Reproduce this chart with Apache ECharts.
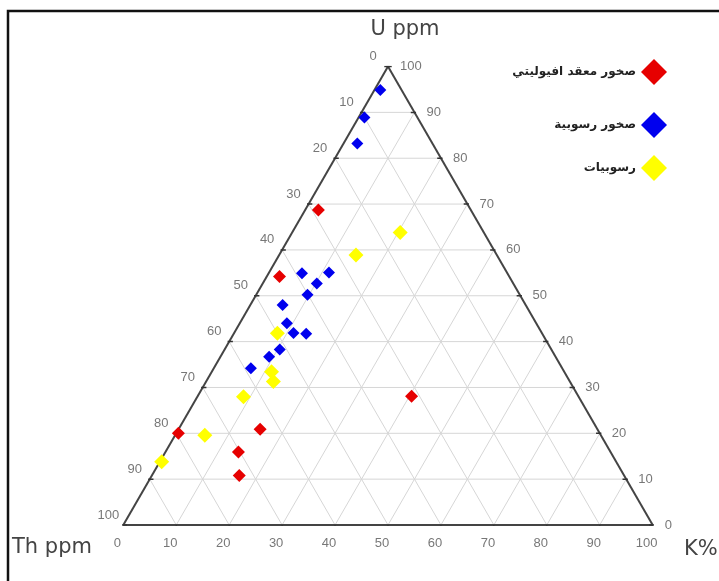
<!DOCTYPE html>
<html>
<head>
<meta charset="utf-8">
<script src="https://cdn.jsdelivr.net/npm/echarts@6/dist/echarts.min.js"></script>
<style>html,body{margin:0;padding:0;background:#fff}#c{width:719px;height:581px}</style>
</head>
<body>
<div id="c"></div>
<script>
// Ternary data: each point is [Th ppm, U ppm, K%]
const seriesNames = ['صخور معقد افيوليتي', 'صخور رسوبية', 'رسوبيات'];
const ophioliteTUK = [
  [28.8, 68.7, 2.5], [43.4, 54.2, 2.4], [31.5, 28.1, 40.4], [79.6, 20.0, 0.4],
  [63.7, 20.9, 15.4], [70.3, 15.9, 13.8], [72.7, 10.8, 16.5]
];
const sedRockTUK = [
  [4.0, 94.9, 1.1], [10.0, 88.9, 1.1], [14.2, 83.2, 2.6], [38.8, 54.9, 6.3],
  [33.6, 55.1, 11.3], [37.1, 52.7, 10.2], [40.1, 50.2, 9.7], [45.9, 48.0, 6.1],
  [47.1, 44.0, 8.9], [46.9, 41.9, 11.2], [44.6, 41.7, 13.7], [51.3, 38.3, 10.4],
  [54.1, 36.7, 9.2], [58.8, 34.2, 7.0]
];
const sedimentTUK = [
  [15.8, 63.8, 20.4], [26.6, 58.9, 14.5], [50.0, 41.8, 8.2], [55.3, 33.4, 11.3],
  [56.0, 31.3, 12.7], [63.3, 28.0, 8.7], [74.8, 19.6, 5.6], [85.85, 13.8, 0.35]
];
const tickValues = [0, 10, 20, 30, 40, 50, 60, 70, 80, 90, 100];
const axisTitles = { top: 'U ppm', left: 'Th ppm', right: 'K%' };

const SQ = Math.sqrt(3) / 2;
function toXY(p) {
  const s = p[0] + p[1] + p[2];
  const u = p[1] * 100 / s, k = p[2] * 100 / s;
  return [k + u / 2, u * SQ];
}

const series = [];
function seg(a, b, color, width) {
  series.push({
    type: 'line', silent: true, symbol: 'none', animation: false,
    lineStyle: { color: color, width: width },
    data: [toXY(a), toXY(b)], z: 1
  });
}
// grid lines
for (let v = 10; v <= 90; v += 10) {
  seg([100 - v, v, 0], [0, v, 100 - v], '#d6d6d6', 1);
  seg([100 - v, 0, v], [0, 100 - v, v], '#d6d6d6', 1);
  seg([v, 100 - v, 0], [v, 0, 100 - v], '#d6d6d6', 1);
}
// edges
seg([100, 0, 0], [0, 0, 100], '#444', 2);
seg([0, 0, 100], [0, 100, 0], '#444', 2);
seg([0, 100, 0], [100, 0, 0], '#444', 2);

// ticks (small marks)
const tickData = [];
tickValues.forEach(v => {
  const b = toXY([100 - v, 0, v]);
  tickData.push([b, [b[0], b[1] - 0.8]]);
  const r = toXY([0, v, 100 - v]);
  tickData.push([[r[0] - 0.7, r[1]], [r[0] + 0.3, r[1]]]);
  const l = toXY([100 - v, v, 0]);
  tickData.push([[l[0] - 0.3, l[1]], [l[0] + 0.7, l[1]]]);
});
tickData.forEach(t => series.push({
  type: 'line', silent: true, symbol: 'none', animation: false,
  lineStyle: { color: '#333', width: 1.5 }, data: t, z: 2
}));

const labelFont = { fontFamily: 'Liberation Sans', fontSize: 13, color: '#555' };
function labelSeries(points, labels, labelOpt) {
  series.push({
    type: 'scatter', silent: true, animation: false, symbolSize: 0.1,
    itemStyle: { color: 'rgba(0,0,0,0)' }, z: 3,
    data: points.map((p, i) => ({ value: toXY(p), name: String(labels[i]) })),
    label: Object.assign({ show: true, formatter: '{b}' }, labelFont, labelOpt)
  });
}
labelSeries(tickValues.map(v => [100 - v, 0, v]), tickValues,
  { position: 'inside', offset: [-6, 18] });
labelSeries(tickValues.map(v => [0, v, 100 - v]), tickValues,
  { position: 'right', distance: 12 });
labelSeries(tickValues.map(v => [v, 100 - v, 0]), tickValues,
  { position: 'inside', offset: [-15, -10] });

// data points
function dataSeries(name, pts, color, size, z) {
  series.push({
    name: name, type: 'scatter', symbol: 'diamond', symbolSize: size,
    itemStyle: { color: color, opacity: 1 }, z: z, animation: false,
    data: pts.map(toXY)
  });
}
dataSeries(seriesNames[2], sedimentTUK, '#ffff00', 15, 5);
dataSeries(seriesNames[1], sedRockTUK, '#0000ee', 12, 6);
dataSeries(seriesNames[0], ophioliteTUK, '#e60000', 13, 7);

const legendTops = [67, 120, 163];
const legends = seriesNames.map((n, i) => ({
  data: [n], right: 47, top: legendTops[i] - 13, align: 'right',
  icon: 'diamond', itemWidth: 26, itemHeight: 26, selectedMode: false,
  itemStyle: { opacity: 1 },
  textStyle: { fontFamily: 'DejaVu Sans', fontWeight: 'bold', fontSize: 12, color: '#222' }
}));

const chart = echarts.init(document.getElementById('c'), null, { renderer: 'canvas' });
chart.setOption({
  animation: false,
  grid: { left: 123.3, top: 525 - 458.47, width: 529.4, height: 458.47 },
  xAxis: { type: 'value', min: 0, max: 100, show: false },
  yAxis: { type: 'value', min: 0, max: 100 * SQ, show: false },
  legend: legends,
  series: series,
  graphic: [
    { type: 'rect', shape: { x: 8, y: 11, width: 900, height: 900 },
      style: { fill: 'none', stroke: '#111', lineWidth: 2.5 }, silent: true },
    { type: 'text', x: 405, y: 30, style: { text: axisTitles.top, font: '21px "DejaVu Sans"', fill: '#444', align: 'center', verticalAlign: 'middle' } },
    { type: 'text', x: 12, y: 548, style: { text: axisTitles.left, font: '21px "DejaVu Sans"', fill: '#444', align: 'left', verticalAlign: 'middle' } },
    { type: 'text', x: 684, y: 550, style: { text: axisTitles.right, font: '21px "DejaVu Sans"', fill: '#444', align: 'left', verticalAlign: 'middle' } }
  ]
});
</script>
</body>
</html>
